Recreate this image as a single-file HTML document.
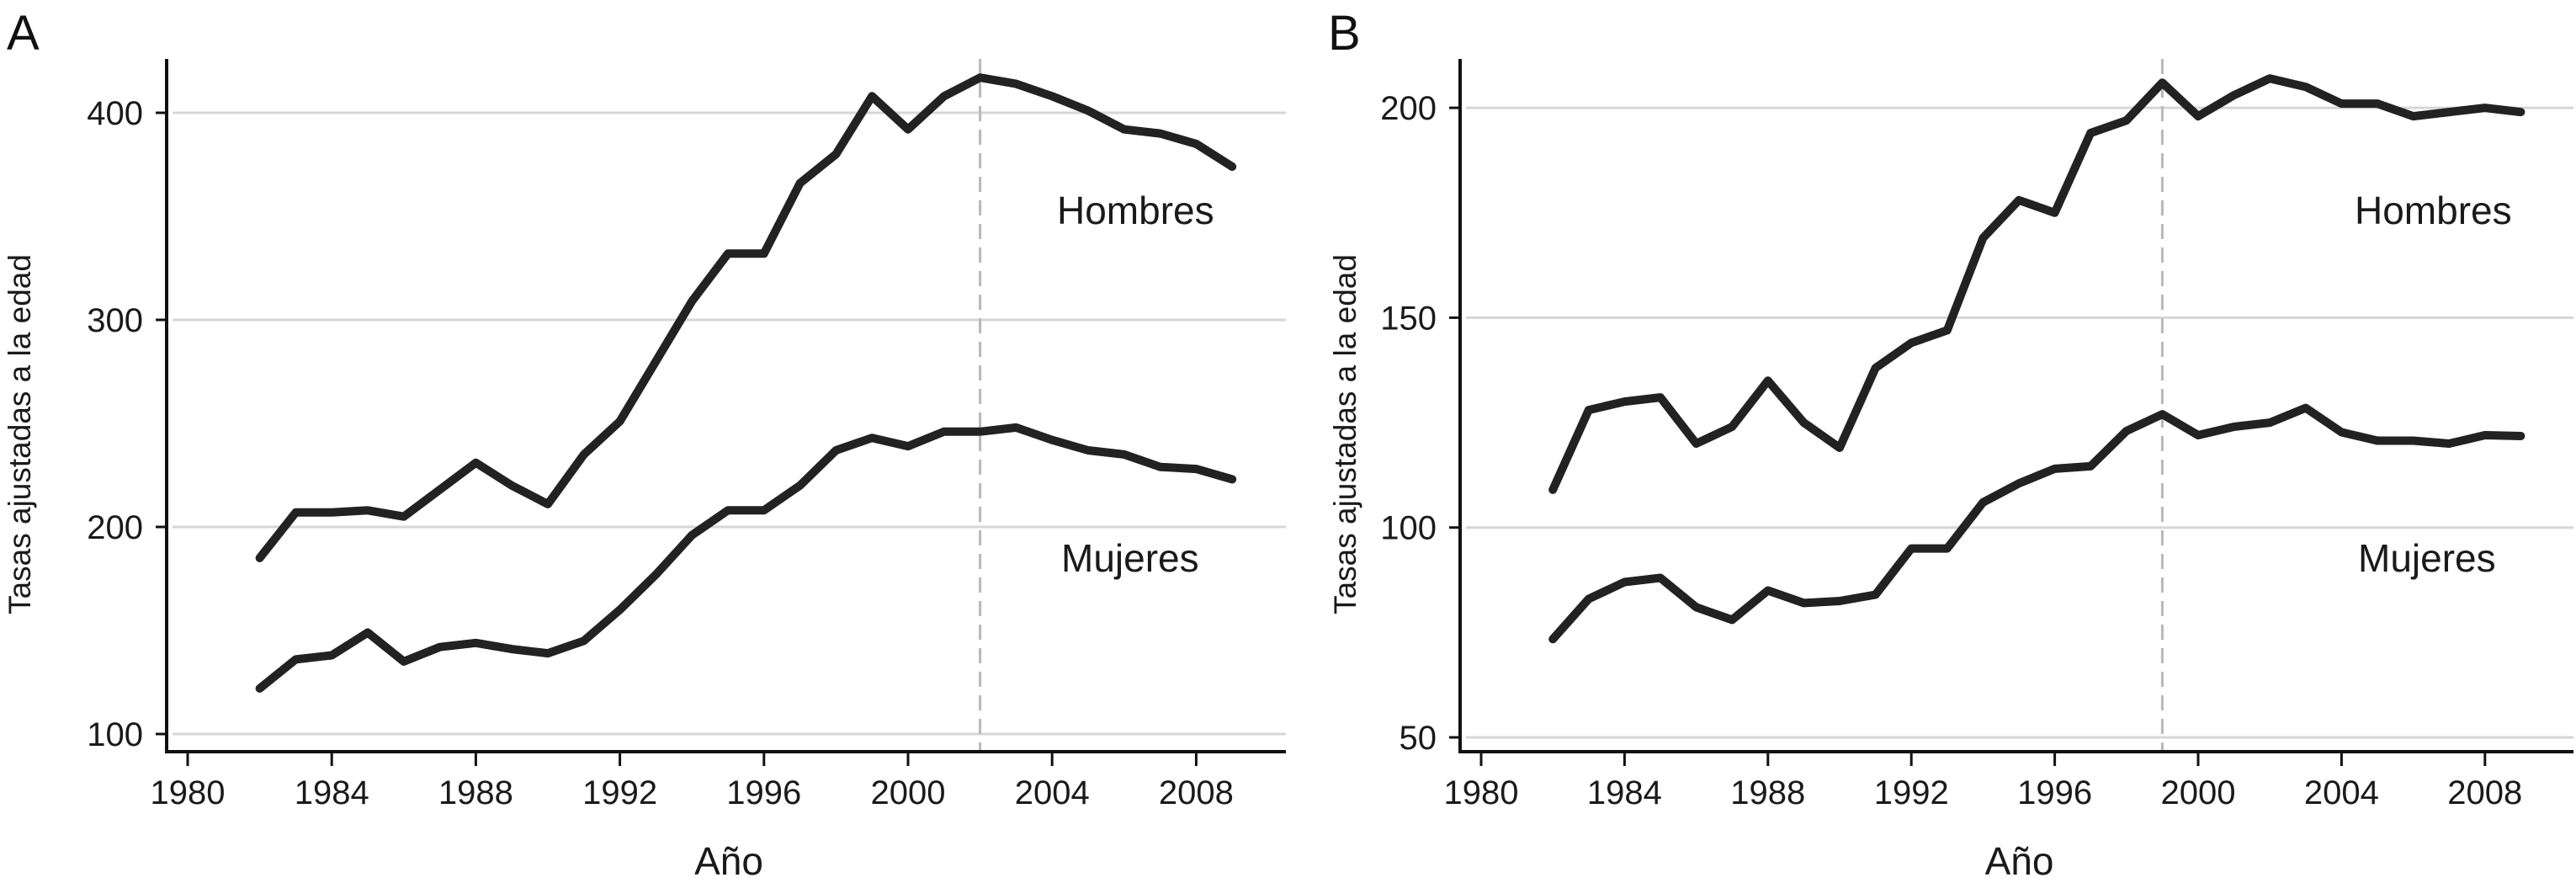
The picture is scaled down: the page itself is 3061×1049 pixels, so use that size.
<!DOCTYPE html>
<html><head><meta charset="utf-8"><style>
html,body{margin:0;padding:0;background:#fff;}
svg{display:block;font-family:"Liberation Sans",sans-serif;}
</style></head><body>
<svg id="chart" width="3061" height="1049" viewBox="0 0 3061 1049"></svg>
<script>
const years = [1982,1983,1984,1985,1986,1987,1988,1989,1990,1991,1992,1993,1994,1995,1996,1997,1998,1999,2000,2001,2002,2003,2004,2005,2006,2007,2008,2009];
const hombresA = [185,207,207,208,205,218,231,220,211,235,251,280,309,332,332,366,380,408,392,408,417,414,408,401,392,390,385,374];
const mujeresA = [122,136,138,149,135,142,144,141,139,145,160,177,196,208,208,220,237,243,239,246,246,248,242,237,235,229,228,223];
const hombresB = [109,128,130,131,120,124,135,125,119,138,144,147,169,178,175,194,197,206,198,203,207,205,201,201,198,199,200,199];
const mujeresB = [73.4,83,87,88,81,78,85,82,82.5,84,95,95,106,110.5,114,114.6,123,127,122,124,125,128.5,122.7,120.7,120.7,120,122,121.8];
const xTicks = [1980,1984,1988,1992,1996,2000,2004,2008];
const yTicksA = [100,200,300,400];
const yTicksB = [50,100,150,200];
const vlineA = 2002;
const vlineB = 1999;

const NS = "http://www.w3.org/2000/svg";
const svg = document.getElementById('chart');
function mk(tag, attrs, parent){
  const e = document.createElementNS(NS, tag);
  for (const k in attrs) e.setAttribute(k, attrs[k]);
  (parent||svg).appendChild(e);
  return e;
}

function panel(cfg){
  const g = mk('g', {});
  
  
  const xS = y => cfg.x0 + (y - 1980) * cfg.px;
  const yS = v => cfg.yRef + (cfg.vRef - v) * cfg.py;
  cfg.yTicks.forEach(v => {
    const l = mk('line', {x1: cfg.axX + 7, x2: cfg.right, y1: yS(v), y2: yS(v), stroke: '#d6d6d6', 'stroke-width': 3}, g);
    
    
    const t = mk('line', {x1: cfg.axX - 13, x2: cfg.axX, y1: yS(v), y2: yS(v), stroke: '#111', 'stroke-width': 3}, g);
    
    
    const tx = mk('text', {x: cfg.axX - 28, y: yS(v) + 14, 'text-anchor': 'end', 'font-size': 40, fill: '#1a1a1a'}, g);
    tx.textContent = v;
    
    
  });
  const vl = mk('line', {x1: xS(cfg.vline), x2: xS(cfg.vline), y1: cfg.top, y2: cfg.axY, stroke: '#b8b8b8', 'stroke-width': 3, 'stroke-dasharray': '18,10'}, g);
  
  
  const ax = mk('path', {d: `M${cfg.axX},${cfg.top} V${cfg.axY} H${cfg.right}`, fill: 'none', stroke: '#111', 'stroke-width': 4}, g);
  
  
  xTicks.forEach(y => {
    const t = mk('line', {x1: xS(y), x2: xS(y), y1: cfg.axY, y2: cfg.axY + 17, stroke: '#111', 'stroke-width': 3}, g);
    
    
    const tx = mk('text', {x: xS(y), y: cfg.axY + 62, 'text-anchor': 'middle', 'font-size': 40, fill: '#1a1a1a'}, g);
    tx.textContent = y;
    
    
  });
  [[cfg.h, 'hombres'], [cfg.m, 'mujeres']].forEach(([arr, nm]) => {
    const d = arr.map((v, i) => (i ? 'L' : 'M') + xS(years[i]).toFixed(1) + ',' + yS(v).toFixed(1)).join(' ');
    const p = mk('path', {d: d, fill: 'none', stroke: '#222', 'stroke-width': 10, 'stroke-linejoin': 'round', 'stroke-linecap': 'round'}, g);
    
    
  });
  const lh = mk('text', {x: cfg.hx, y: 266, 'font-size': 46, fill: '#1a1a1a'}, g);
  lh.textContent = 'Hombres';
  
  
  const lm = mk('text', {x: cfg.mx, y: 679, 'font-size': 46, fill: '#1a1a1a'}, g);
  lm.textContent = 'Mujeres';
  
  
  const pl = mk('text', {x: cfg.lx, y: 59, 'font-size': 58, fill: '#111'}, g);
  pl.textContent = cfg.id;
  
  
  const yt = mk('text', {x: 0, y: 0, 'text-anchor': 'middle', 'font-size': 37, fill: '#1a1a1a', transform: `translate(${cfg.ytx},516) rotate(-90)`}, g);
  yt.textContent = 'Tasas ajustadas a la edad';
  
  
  const xt = mk('text', {x: (cfg.axX + cfg.right) / 2 + 3, y: 1039, 'text-anchor': 'middle', 'font-size': 46, fill: '#1a1a1a'}, g);
  xt.textContent = 'Año';
  
  
}

panel({id:'A', x0:223, px:42.8, yRef:872, vRef:100, py:2.46, axX:198, axY:893, top:70, right:1528,
  yTicks:yTicksA, vline:vlineA, h:hombresA, m:mujeresA, hx:1256, mx:1261, lx:8, ytx:36});
panel({id:'B', x0:1760, px:42.6, yRef:876, vRef:50, py:4.986, axX:1735, axY:893, top:70, right:3058,
  yTicks:yTicksB, vline:vlineB, h:hombresB, m:mujeresB, hx:2798, mx:2802, lx:1578, ytx:1611});
</script>
</body></html>
